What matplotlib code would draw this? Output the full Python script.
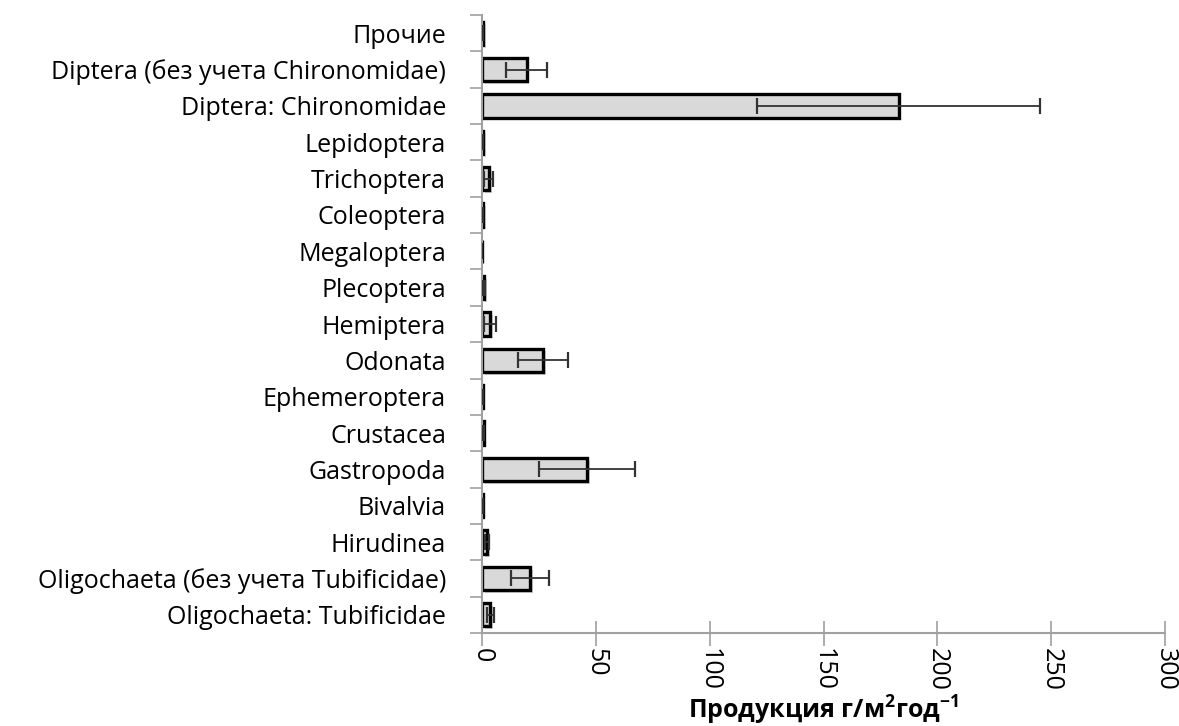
import matplotlib
matplotlib.use("Agg")
import matplotlib.pyplot as plt
import matplotlib.patheffects as pe
import numpy as np

categories = [
    "Oligochaeta: Tubificidae",
    "Oligochaeta (без учета Tubificidae)",
    "Hirudinea",
    "Bivalvia",
    "Gastropoda",
    "Crustacea",
    "Ephemeroptera",
    "Odonata",
    "Hemiptera",
    "Plecoptera",
    "Megaloptera",
    "Coleoptera",
    "Trichoptera",
    "Lepidoptera",
    "Diptera: Chironomidae",
    "Diptera (без учета Chironomidae)",
    "Прочие",
]
values = [3.7, 21.1, 2.2, 0.3, 46.2, 0.7, 0.3, 26.8, 3.6, 1.0, 0.0, 0.4, 3.0, 0.4, 183.0, 19.6, 0.4]
errors = [1.5, 8.5, 1.0, 0.0, 21.0, 0.3, 0.0, 11.0, 2.6, 0.4, 0.0, 0.0, 2.0, 0.0, 62.0, 9.0, 0.0]
xticks = [0, 50, 100, 150, 200, 250, 300]
xlabel = r"Продукция г/м$^{\mathbf{2}}$год$^{\mathbf{-1}}$"

plt.rcParams['font.family'] = ['Open Sans', 'DejaVu Sans']
plt.rcParams['mathtext.fontset'] = 'custom'
plt.rcParams['mathtext.rm'] = 'Open Sans'
plt.rcParams['mathtext.bf'] = 'Open Sans:bold'

fig = plt.figure(figsize=(11.79, 7.26), dpi=100)
ax = fig.add_axes([482 / 1179, 1 - 633 / 726, (1165 - 482) / 1179, (633 - 15) / 726])

y = np.arange(len(categories))
bars = ax.barh(y, values, height=0.64, color="#d9d9d9", edgecolor="black", linewidth=2.4, zorder=2)
for b in bars:
    b.set_path_effects([pe.SimplePatchShadow(offset=(2, -2), shadow_rgbFace="#888888", alpha=0.35), pe.Normal()])
ax.errorbar(values, y, xerr=errors, fmt="none", ecolor="#333333", elinewidth=1.3,
            capsize=6, capthick=1.6, zorder=3)

ax.set_xlim(0, 300)
ax.set_ylim(-0.5, len(categories) - 0.5)
ax.set_xticks(xticks)
ax.set_xticklabels([str(t) for t in xticks], rotation=-90, fontsize=18)
ax.set_yticks(y)
ax.set_yticklabels(categories, fontsize=18)
ax.tick_params(axis="y", which="major", length=0, pad=26)
ax.set_yticks(np.arange(-0.5, len(categories), 1.0), minor=True)
ax.tick_params(axis="y", which="minor", length=9, color="#a0a0a0", width=1.2)
ax.tick_params(axis="x", which="major", direction="inout", length=18, color="#a0a0a0", width=1.2, pad=2)

for s in ["top", "right"]:
    ax.spines[s].set_visible(False)
for s in ["left", "bottom"]:
    ax.spines[s].set_color("#a0a0a0")
    ax.spines[s].set_linewidth(1.5)

ax.set_xlabel(xlabel, fontsize=18, fontweight="bold", labelpad=2)

fig.savefig("out.png", dpi=100)
